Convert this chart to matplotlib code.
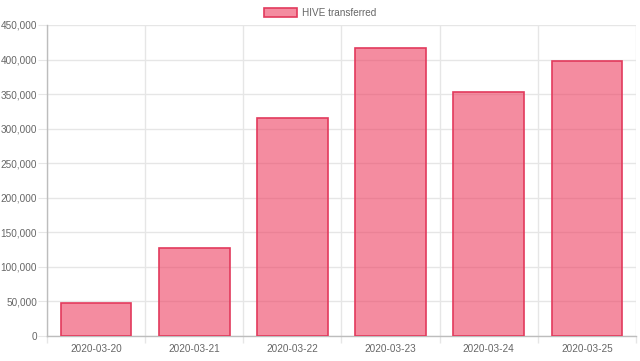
import matplotlib
matplotlib.use("Agg")
import matplotlib.pyplot as plt
from matplotlib.ticker import FuncFormatter, MultipleLocator
import numpy as np

dates = ["2020-03-20", "2020-03-21", "2020-03-22", "2020-03-23", "2020-03-24", "2020-03-25"]
hive_transferred = [47500, 127500, 314800, 416000, 353500, 397800]
series_label = "HIVE transferred"

fill = (0.93, 0.25, 0.38, 0.6)
edge = "#e23a5c"
grid_c = "#e6e6e6"
text_c = "#666666"
px = 72 / 100  # points per pixel at dpi 100

plt.rcParams["font.family"] = ["Liberation Sans", "DejaVu Sans"]

fig = plt.figure(figsize=(6.4, 3.61), dpi=100)
ax = fig.add_axes([47 / 640, 25 / 361, 589 / 640, 311 / 361])

x = np.arange(len(dates))
ax.bar(x, hive_transferred, width=0.72, color=fill, edgecolor=edge, linewidth=1.2,
       label=series_label, zorder=3)

ax.set_xlim(-0.5, len(dates) - 0.5)
ax.set_ylim(0, 450000)
ax.yaxis.set_major_locator(MultipleLocator(50000))
ax.yaxis.set_major_formatter(FuncFormatter(lambda v, p: f"{int(v):,}"))

ax.set_xticks(x)
ax.set_xticklabels(dates)
ax.set_xticks(np.arange(-0.5, len(dates)), minor=True)

fs = 10 * px
ax.tick_params(axis="x", which="major", length=0, pad=8 * px, labelsize=fs, labelcolor=text_c)
ax.tick_params(axis="x", which="minor", length=7 * px, color=grid_c, width=1)
ax.tick_params(axis="y", length=9 * px, pad=1 * px, color=grid_c, labelsize=fs, labelcolor=text_c)

ax.grid(True, axis="y", color=grid_c, linewidth=1, zorder=0)
ax.grid(True, axis="x", which="minor", color=grid_c, linewidth=1, zorder=0)

for side in ["top", "right"]:
    ax.spines[side].set_visible(False)
for side in ["left", "bottom"]:
    ax.spines[side].set_color("#bdbdbd")
    ax.spines[side].set_linewidth(1)

fig.legend(loc="upper center", bbox_to_anchor=(0.5, 1.0), frameon=False,
           handlelength=3.3, handleheight=1.0, handletextpad=0.5,
           fontsize=fs, labelcolor=text_c, borderaxespad=0.4)

fig.savefig("out.png", dpi=100)
